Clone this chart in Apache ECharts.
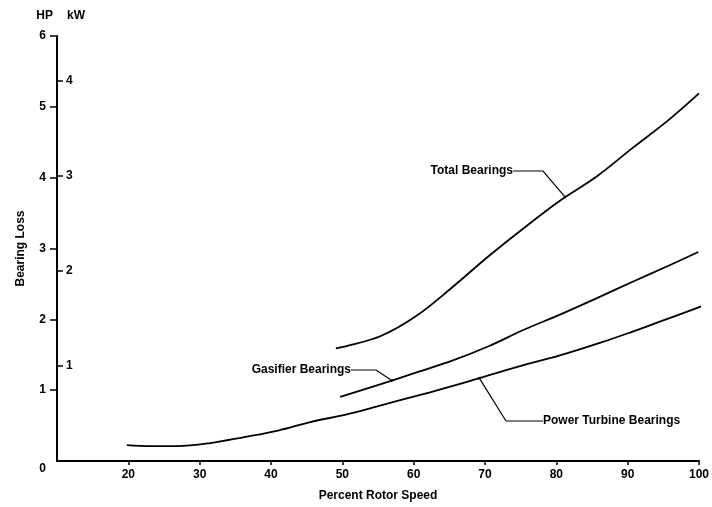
<!DOCTYPE html>
<html>
<head>
<meta charset="utf-8">
<script src="https://cdn.jsdelivr.net/npm/echarts@6/dist/echarts.min.js"></script>
<style>
  html, body { margin: 0; padding: 0; background: #ffffff; }
  #chart { width: 712px; height: 507px; }
</style>
</head>
<body>
<div id="chart"></div>
<script>
// Bearing loss against percent rotor speed (HP scale, with kW shown alongside)
const speedTicks = [20, 30, 40, 50, 60, 70, 80, 90, 100];
const hpTicks = [0, 1, 2, 3, 4, 5, 6];
const kwTicks = [1, 2, 3, 4];
const KW_PER_HP = 0.7457;

const totalSpeed = [49.1, 50.3, 55.4, 60.4, 65.5, 70.5, 75.6, 80.6, 85.7, 90.7, 95.8, 100];
const totalLoss  = [1.59, 1.615, 1.765, 2.05, 2.46, 2.89, 3.30, 3.68, 4.02, 4.42, 4.82, 5.19];

const gasifierSpeed = [49.7, 55.4, 60.4, 65.5, 70.5, 75.6, 80.6, 85.7, 90.7, 95.8, 99.9];
const gasifierLoss  = [0.905, 1.085, 1.25, 1.42, 1.62, 1.86, 2.07, 2.30, 2.53, 2.76, 2.95];

const turbineSpeed = [19.8, 23, 26.8, 31.5, 36.1, 41, 45.5, 50.5, 54.9, 58.5, 62.3, 65.5, 69.2, 74.9, 80.5, 86.2, 90.5, 94.6, 100.8];
const turbineLoss  = [0.225, 0.21, 0.21, 0.253, 0.335, 0.43, 0.55, 0.655, 0.77, 0.87, 0.97, 1.06, 1.17, 1.34, 1.49, 1.67, 1.82, 1.97, 2.2];

// Callout labels and the curve points they point to
const noteNames = ['Total Bearings', 'Gasifier Bearings', 'Power Turbine Bearings'];
const noteSpeed = [81.2, 56.9, 69.2];
const noteLoss  = [3.73, 1.14, 1.17];

const FONT = '"Liberation Sans", Arial, Helvetica, sans-serif';
const INK = '#000000';

function pairs(xs, ys) { return xs.map((x, i) => [x, ys[i]]); }

// Where each callout text sits (pixels) and how long its horizontal leader is
const noteLayout = [
  { x: 513, y: 171, align: 'right', verticalAlign: 'middle', leader: 30 },
  { x: 351, y: 370, align: 'right', verticalAlign: 'middle', leader: 25 },
  { x: 543, y: 421, align: 'left',  verticalAlign: 'middle', leader: 37 }
];

const curveStyle = { color: INK, width: 1.8 };
function curve(name, xs, ys) {
  return {
    name: name, type: 'line', yAxisIndex: 0,
    data: pairs(xs, ys),
    smooth: 0.35,
    showSymbol: false, symbol: 'none',
    lineStyle: curveStyle, itemStyle: { color: INK },
    silent: true, z: 2
  };
}

const chart = echarts.init(document.getElementById('chart'), null, { renderer: 'canvas' });

chart.setOption({
  animation: false,
  backgroundColor: '#ffffff',
  textStyle: { fontFamily: FONT, color: INK },
  grid: { left: 57, right: 13, top: 36, bottom: 46, containLabel: false },
  xAxis: {
    type: 'value', min: 10, max: 100, interval: 10,
    name: 'Percent Rotor Speed', nameLocation: 'middle', nameGap: 29,
    nameTextStyle: { fontFamily: FONT, fontWeight: 'bold', fontSize: 12, color: INK },
    axisLine: { show: true, lineStyle: { color: INK, width: 2 } },
    axisTick: { show: true, length: 4, customValues: speedTicks, lineStyle: { color: INK, width: 1.5 } },
    axisLabel: { customValues: speedTicks, margin: 8, fontFamily: FONT, fontWeight: 'bold', fontSize: 12, color: INK },
    splitLine: { show: false }
  },
  yAxis: [
    {
      type: 'value', min: 0, max: 6, interval: 1, position: 'left',
      name: 'HP', nameLocation: 'end', nameGap: 14,
      nameTextStyle: { fontFamily: FONT, fontWeight: 'bold', fontSize: 12, color: INK, align: 'right', padding: [0, 4, 0, 0] },
      axisLine: { show: true, lineStyle: { color: INK, width: 2 } },
      axisTick: { show: true, length: 7, customValues: [1, 2, 3, 4, 5, 6], lineStyle: { color: INK, width: 1.5 } },
      axisLabel: {
        customValues: hpTicks, margin: 11, fontFamily: FONT, fontWeight: 'bold', fontSize: 12, color: INK,
        formatter: v => (v === 0 ? '{z|0}' : String(v)),
        rich: { z: { fontFamily: FONT, fontWeight: 'bold', fontSize: 12, color: INK, padding: [16, 0, 0, 0] } }
      },
      splitLine: { show: false }
    },
    {
      type: 'value', min: 0, max: 6 * KW_PER_HP, position: 'left', offset: 0,
      name: 'kW', nameLocation: 'end', nameGap: 14,
      nameTextStyle: { fontFamily: FONT, fontWeight: 'bold', fontSize: 12, color: INK, align: 'left', padding: [0, 0, 0, 10] },
      axisLine: { show: false },
      axisTick: { show: true, inside: true, length: 6, customValues: kwTicks, lineStyle: { color: INK, width: 1.5 } },
      axisLabel: { inside: true, customValues: kwTicks, margin: 9, fontFamily: FONT, fontWeight: 'bold', fontSize: 12, color: INK },
      splitLine: { show: false }
    },
    {
      type: 'value', min: 0, max: 6, position: 'left', offset: 0,
      name: 'Bearing Loss', nameLocation: 'middle', nameGap: 30,
      nameTextStyle: { fontFamily: FONT, fontWeight: 'bold', fontSize: 12, color: INK },
      axisLine: { show: false }, axisTick: { show: false }, axisLabel: { show: false },
      splitLine: { show: false }
    }
  ],
  series: [
    curve('Total Bearings', totalSpeed, totalLoss),
    curve('Gasifier Bearings', gasifierSpeed, gasifierLoss),
    curve('Power Turbine Bearings', turbineSpeed, turbineLoss),
    {
      type: 'scatter', yAxisIndex: 0, silent: true, z: 5,
      symbol: 'circle', symbolSize: 3,
      itemStyle: { color: INK },
      data: noteNames.map((n, i) => ({
        name: n,
        value: [noteSpeed[i], noteLoss[i]],
        labelLine: { show: true, length2: noteLayout[i].leader, lineStyle: { color: INK, width: 1.2 } }
      })),
      label: {
        show: true, formatter: '{b}', opacity: 1,
        fontFamily: FONT, fontWeight: 'bold', fontSize: 12, color: INK
      },
      labelLine: { show: true, lineStyle: { color: INK, width: 1.2 } },
      labelLayout: p => {
        const L = noteLayout[p.dataIndex];
        return { x: L.x, y: L.y, align: L.align, verticalAlign: L.verticalAlign };
      }
    }
  ]
});
</script>
</body>
</html>
